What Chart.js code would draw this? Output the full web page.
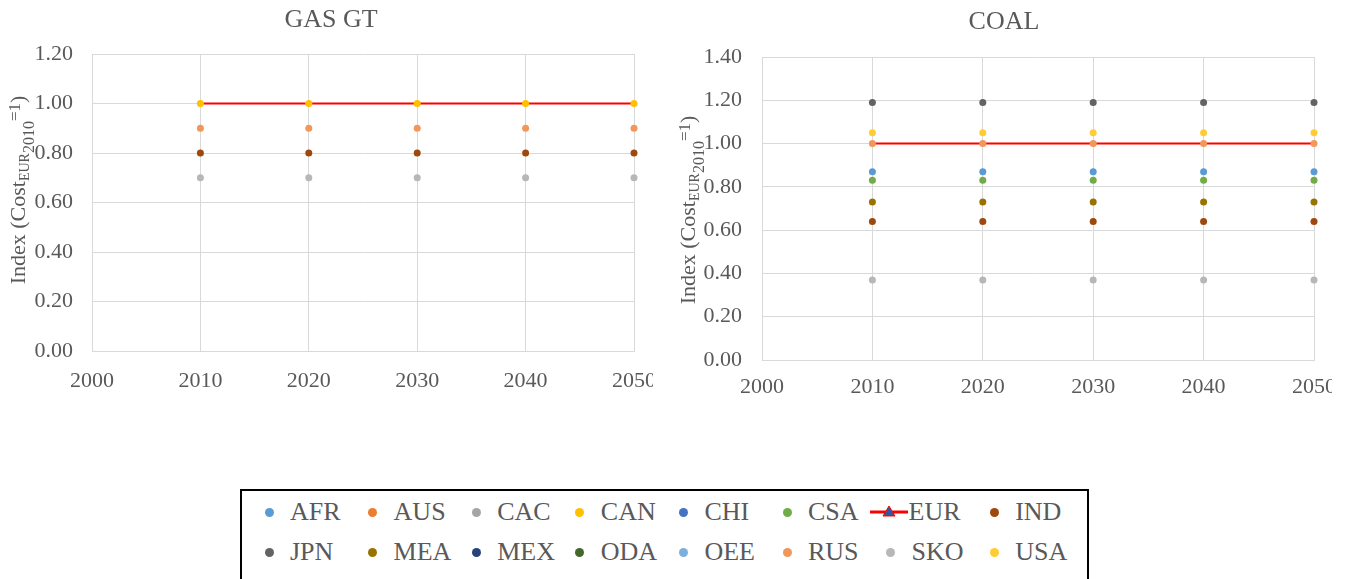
<!DOCTYPE html>
<html>
<head>
<meta charset="utf-8">
<script src="https://cdn.jsdelivr.net/npm/chart.js@4/dist/chart.umd.min.js"></script>
<style>
  body { margin: 0; background: #fff; width: 1345px; height: 579px; overflow: hidden; position: relative; font-family: "Liberation Serif", serif; }
  .wrap { position: absolute; top: 0; overflow: hidden; }
  #legend { position: absolute; left: 240px; top: 489px; width: 845px; height: 100px; border: 2px solid #000; }
  .item { position: absolute; font-size: 26px; color: #595959; line-height: 30px; white-space: nowrap; }
  .dot { position: absolute; width: 9px; height: 9px; border-radius: 50%; }
</style>
</head>
<body>
<div class="wrap" style="left:0;width:653px;height:400px"><canvas id="gas" width="653" height="400"></canvas></div>
<div class="wrap" style="left:670px;width:662px;height:410px"><canvas id="coal" width="662" height="410"></canvas></div>
<div id="legend"></div>
<script>
// Regiones y colores (mismo orden que la leyenda)
const regions = ['AFR', 'AUS', 'CAC', 'CAN', 'CHI', 'CSA', 'EUR', 'IND', 'JPN', 'MEA', 'MEX', 'ODA', 'OEE', 'RUS', 'SKO', 'USA'];
const regionColors = ['#5B9BD5', '#ED7D31', '#A5A5A5', '#FFC000', '#4472C4', '#70AD47', '#FF0000', '#9E480E', '#636363', '#997300', '#264478', '#43682B', '#7CAFDD', '#F1975A', '#B7B7B7', '#FFCD33'];

const years = [2010, 2020, 2030, 2040, 2050];

// GAS GT: indice por region (constante en todos los años)
const gasRegions = ['EUR', 'CAN', 'RUS', 'IND', 'SKO'];
const gasIndex = [1.00, 1.00, 0.90, 0.80, 0.70];

// COAL
const coalRegions = ['EUR', 'JPN', 'USA', 'RUS', 'AFR', 'CSA', 'MEA', 'IND', 'SKO'];
const coalIndex = [1.00, 1.19, 1.05, 1.00, 0.87, 0.83, 0.73, 0.64, 0.37];

const xTicks = [2000, 2010, 2020, 2030, 2040, 2050];

const GREY = '#595959';
const GRID = '#D9D9D9';
const FONT = 'Liberation Serif';

// titulo del grafico, dibujado a mano para centrarlo como en Excel
const titlePlugin = {
  id: 'plainTitle',
  afterDraw(chart, args, opts) {
    const ctx = chart.ctx;
    ctx.save();
    ctx.font = '26px "' + FONT + '"';
    ctx.fillStyle = GREY;
    ctx.textAlign = 'center';
    ctx.textBaseline = 'middle';
    ctx.fillText(opts.text, opts.x, opts.y);
    ctx.restore();
  }
};

// titulo del eje Y con subindices
const yTitlePlugin = {
  id: 'yTitle',
  afterDraw(chart, args, opts) {
    const ctx = chart.ctx;
    const parts = [['Index (Cost', 22, 0], ['EUR', 14, 4], ['2010', 16, 9], ['=1', 17, -5], [')', 22, 0]];
    let total = 0;
    parts.forEach(p => {
      ctx.font = p[1] + 'px "' + FONT + '"';
      total += ctx.measureText(p[0]).width;
    });
    ctx.save();
    ctx.translate(opts.x, opts.y);
    ctx.rotate(-Math.PI / 2);
    ctx.fillStyle = GREY;
    ctx.textBaseline = 'alphabetic';
    let pos = -total / 2;
    parts.forEach(p => {
      ctx.font = p[1] + 'px "' + FONT + '"';
      ctx.fillText(p[0], pos, 7 + p[2]);
      pos += ctx.measureText(p[0]).width;
    });
    ctx.restore();
  }
};

function buildDatasets(names, values) {
  return names.map((name, i) => {
    const color = regionColors[regions.indexOf(name)];
    const points = years.map(y => ({ x: y, y: values[i] }));
    if (name === 'EUR') {
      return { label: name, data: points, showLine: true, borderColor: color, borderWidth: 2, pointRadius: 0, order: 1, clip: false };
    }
    return { label: name, data: points, showLine: false, backgroundColor: color, borderWidth: 0, pointRadius: 3.5, order: 0, clip: false };
  });
}

function makeChart(id, names, values, yMax, cfg) {
  new Chart(document.getElementById(id), {
    type: 'scatter',
    data: { datasets: buildDatasets(names, values) },
    plugins: [titlePlugin, yTitlePlugin],
    options: {
      responsive: false,
      animation: false,
      layout: { padding: { top: cfg.top, right: cfg.right, left: 0, bottom: 0 } },
      plugins: {
        legend: { display: false },
        tooltip: { enabled: false },
        plainTitle: { text: cfg.title, x: cfg.titleX, y: cfg.titleY },
        yTitle: { x: 18, y: cfg.yTitleY }
      },
      scales: {
        x: {
          type: 'linear',
          min: 2000,
          max: 2050,
          afterBuildTicks: s => { s.ticks = xTicks.map(v => ({ value: v })); },
          afterFit: s => { s.height = cfg.xHeight; s.paddingRight = 0; s.paddingLeft = 0; },
          grid: { color: GRID, drawTicks: false },
          border: { color: GRID },
          ticks: { color: GREY, font: { family: FONT, size: 22 }, padding: cfg.xPad, maxRotation: 0, callback: v => String(v) }
        },
        y: {
          min: 0,
          max: yMax,
          afterFit: s => { s.width = 92; s.paddingTop = 0; s.paddingBottom = 0; },
          grid: { color: GRID, drawTicks: false },
          border: { color: GRID },
          ticks: { stepSize: 0.2, color: GREY, font: { family: FONT, size: 22 }, padding: cfg.yPad, callback: v => v.toFixed(2) }
        }
      }
    }
  });
}

makeChart('gas', gasRegions, gasIndex, 1.2, {
  title: 'GAS GT', titleX: 331, titleY: 20, top: 54, right: 19, xHeight: 49, xPad: 17, yPad: 19, yTitleY: 190
});
makeChart('coal', coalRegions, coalIndex, 1.4, {
  title: 'COAL', titleX: 334, titleY: 22, top: 57, right: 18, xHeight: 50, xPad: 14, yPad: 20, yTitleY: 210
});

// leyenda comun (HTML)
const legend = document.getElementById('legend');
regions.forEach((name, i) => {
  const col = i % 8, row = Math.floor(i / 8);
  const cx = 27 + col * 103.6;
  const cy = 21 + row * 40;
  if (name === 'EUR') {
    const svg = '<svg width="38" height="14" style="position:absolute;left:' + (cx - 21) + 'px;top:' + (cy - 7) + 'px">' +
      '<line x1="0" y1="7" x2="38" y2="7" stroke="#FF0000" stroke-width="3"/>' +
      '<polygon points="19,1 25,11 13,11" fill="#2E5A9C" stroke="#FF0000" stroke-width="1"/></svg>';
    legend.insertAdjacentHTML('beforeend', svg);
  } else {
    const d = document.createElement('span');
    d.className = 'dot';
    d.style.left = (cx - 4.5) + 'px';
    d.style.top = (cy - 4.5) + 'px';
    d.style.background = regionColors[i];
    legend.appendChild(d);
  }
  const t = document.createElement('span');
  t.className = 'item';
  t.textContent = name;
  t.style.left = (cx + (name === 'EUR' ? 18 : 21)) + 'px';
  t.style.top = (cy - 15) + 'px';
  legend.appendChild(t);
});
</script>
</body>
</html>
